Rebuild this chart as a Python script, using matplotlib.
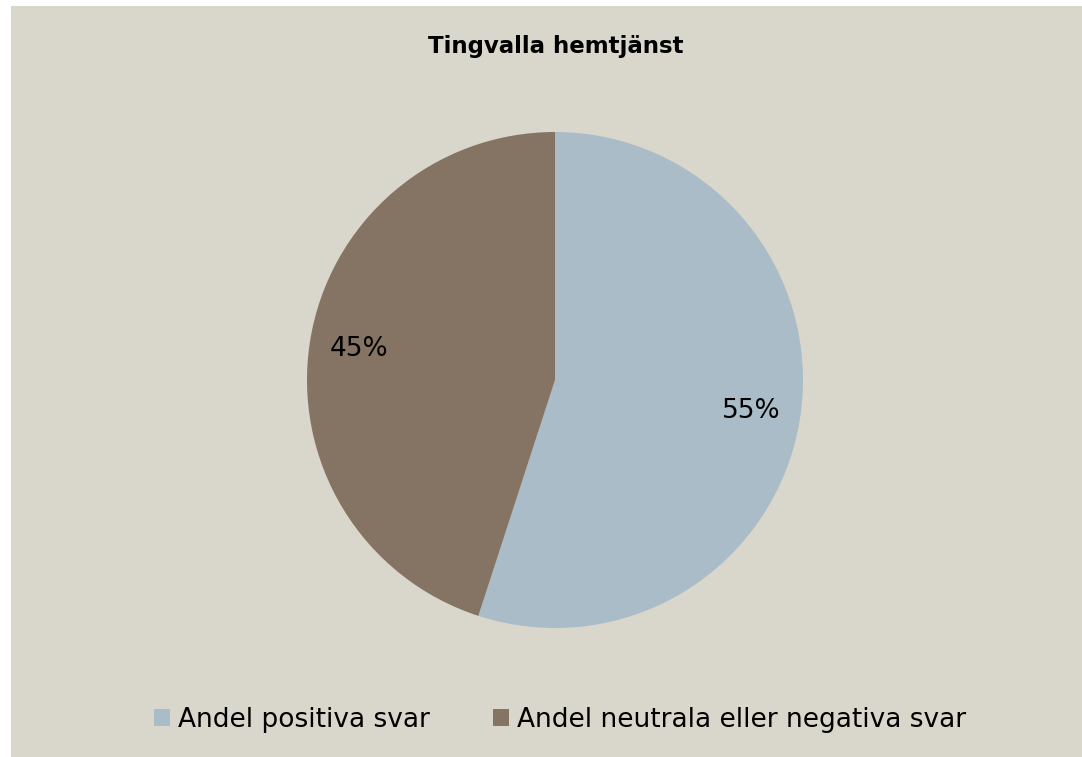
import matplotlib
matplotlib.use("Agg")
import matplotlib.pyplot as plt
import matplotlib.patches as patches

title = "Tingvalla hemtjänst"
labels = ["Andel positiva svar", "Andel neutrala eller negativa svar"]
values = [55, 45]
colors = ["#A9BCC8", "#857463"]
bg = "#D9D7CB"

plt.rcParams["font.family"] = ["DejaVu Sans"]

fig = plt.figure(figsize=(10.82, 7.57), dpi=100)
fig.patch.set_facecolor("white")
fig.patches.append(patches.Rectangle((11 / 1082, 0), 1 - 11 / 1082, 751 / 757,
                                     transform=fig.transFigure, facecolor=bg,
                                     edgecolor="none", zorder=-5))

ax = fig.add_axes([307 / 1082, 129 / 757, 496 / 1082, 496 / 757])
ax.set_facecolor("none")
wedges, texts, autotexts = ax.pie(values, colors=colors, startangle=90,
                                  counterclock=False, autopct="%d%%",
                                  pctdistance=0.8, radius=1,
                                  textprops={"fontsize": 19, "color": "black"})
ax.set_xlim(-1, 1)
ax.set_ylim(-1, 1)

fig.text(556 / 1082, 1 - 47 / 757, title, ha="center", va="center",
         fontsize=16.5, fontweight="bold")

fig.legend(wedges, labels, loc="center", bbox_to_anchor=(560 / 1082, 1 - 720 / 757),
           ncol=2, frameon=False, fontsize=19, handlelength=0.6, handleheight=0.6,
           handletextpad=0.3, columnspacing=2.4)

fig.savefig("out.png", dpi=100, facecolor=fig.get_facecolor())
